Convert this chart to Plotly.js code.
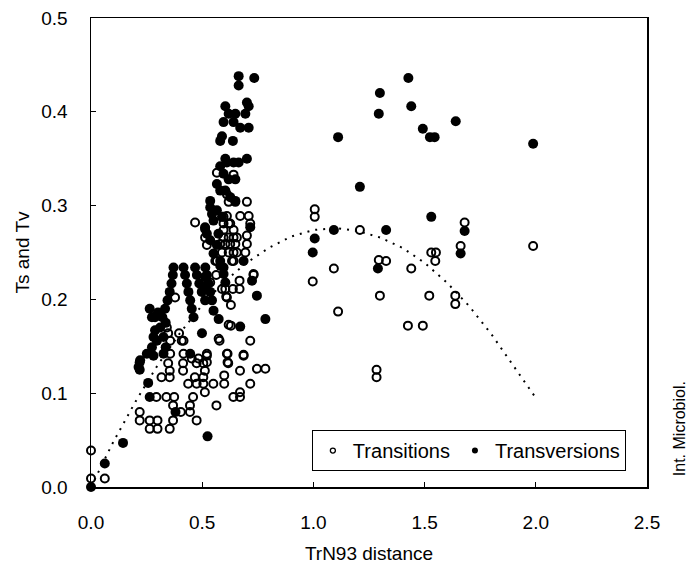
<!DOCTYPE html>
<html>
<head>
<meta charset="utf-8">
<script src="https://cdn.plot.ly/plotly-3.0.1.min.js"></script>
<style>
html,body{margin:0;padding:0;background:#fff;}
#chart{width:692px;height:568px;}
</style>
</head>
<body>
<div id="chart"></div>
<script>
// Transitions (open circles)
var tsX = [
  0, 0, 0.062,
  0.219, 0.219, 0.264, 0.264, 0.299, 0.299, 0.354, 0.369, 0.339, 0.374, 0.369, 0.294,
  0.404, 0.445, 0.445, 0.475, 0.459, 0.437, 0.475, 0.505, 0.467, 0.505, 0.512,
  0.550, 0.564, 0.599, 0.599, 0.670, 0.640, 0.670, 0.670, 0.617,
  0.317, 0.354, 0.354, 0.414, 0.414, 0.475, 0.505, 0.512, 0.347,
  0.356, 0.611, 0.686, 0.521, 0.746, 0.784, 0.716, 0.416, 0.453, 0.483,
  0.356, 0.416, 0.396, 0.347, 0.378, 0.341, 0.408,
  0.521, 0.521, 0.614, 0.614, 0.686,
  0.578, 0.716, 0.629, 0.629, 0.608,
  0.604, 0.638, 0.668, 0.668, 0.563, 0.731, 0.559, 0.641,
  0.536, 0.589, 0.611, 0.574, 0.619,
  0.566, 0.641, 0.619, 0.649, 0.701, 0.611,
  0.468, 0.513, 0.513, 0.521,
  0.596, 0.619, 0.641, 0.671, 0.709, 0.716,
  0.596, 0.596, 0.619, 0.641, 0.656,
  0.581, 0.604, 0.626, 0.649,
  0.589, 0.619, 0.641, 0.656, 0.694,
  0.701, 0.701, 0.566, 0.634, 0.731, 0.596, 0.626, 0.611,
  1.006, 1.006, 1.209, 1.092, 0.997, 1.294, 1.327, 1.440, 1.530, 1.551, 1.548,
  1.680, 1.662, 1.988, 1.299, 1.521, 1.638, 1.638, 1.111, 1.425, 1.492, 1.284, 1.284
];
var tsY = [
  0.039, 0.009, 0.009,
  0.080, 0.071, 0.071, 0.062, 0.071, 0.062, 0.062, 0.071, 0.096, 0.096, 0.087, 0.096,
  0.080, 0.087, 0.080, 0.071, 0.096, 0.110, 0.110, 0.110, 0.117, 0.117, 0.101,
  0.110, 0.087, 0.119, 0.110, 0.124, 0.096, 0.096, 0.101, 0.132,
  0.117, 0.124, 0.117, 0.124, 0.132, 0.132, 0.132, 0.124, 0.132,
  0.142, 0.142, 0.140, 0.140, 0.126, 0.126, 0.110, 0.142, 0.137, 0.137,
  0.156, 0.156, 0.164, 0.164, 0.202, 0.170, 0.156,
  0.142, 0.133, 0.142, 0.133, 0.141,
  0.156, 0.156, 0.172, 0.194, 0.203,
  0.211, 0.211, 0.211, 0.220, 0.226, 0.226, 0.241, 0.241,
  0.218, 0.211, 0.202, 0.158, 0.173,
  0.335, 0.333, 0.304, 0.304, 0.304, 0.312,
  0.282, 0.275, 0.266, 0.258,
  0.288, 0.281, 0.274, 0.289, 0.289, 0.281,
  0.274, 0.266, 0.266, 0.266, 0.266,
  0.259, 0.259, 0.259, 0.259,
  0.250, 0.250, 0.250, 0.250, 0.250,
  0.268, 0.259, 0.241, 0.241, 0.227, 0.281, 0.281, 0.289,
  0.296, 0.288, 0.274, 0.233, 0.219, 0.242, 0.241, 0.233, 0.250, 0.250, 0.241,
  0.282, 0.257, 0.257, 0.204, 0.204, 0.204, 0.195, 0.187, 0.172, 0.172, 0.125, 0.117
];

// Transversions (filled circles)
var tvX = [
  0, 0.062, 0.144, 0.524, 0.257, 0.264, 0.219, 0.219, 0.380, 0.251, 0.221, 0.214,
  0.371, 0.416, 0.468, 0.514,
  0.368, 0.362, 0.354, 0.344, 0.333, 0.321,
  0.423, 0.431, 0.438, 0.446, 0.453, 0.461,
  0.476, 0.487, 0.498, 0.513,
  0.521, 0.528, 0.536, 0.544, 0.551, 0.574,
  0.288, 0.301, 0.288, 0.311, 0.336, 0.274, 0.281, 0.296, 0.326, 0.274, 0.281, 0.336, 0.326, 0.446, 0.264,
  0.499, 0.746, 0.784, 0.671, 0.724, 0.686, 0.513, 0.513, 0.581, 0.596, 0.604,
  0.664, 0.664, 0.734, 0.604, 0.701, 0.709, 0.694, 0.649, 0.619, 0.596, 0.641, 0.671, 0.709,
  0.589, 0.581, 0.638, 0.604, 0.611, 0.641, 0.581, 0.664, 0.701, 0.596, 0.619, 0.649,
  0.566, 0.581, 0.604, 0.626, 0.649, 0.536, 0.536, 0.544, 0.566, 0.589, 0.551,
  0.513, 0.521, 0.536, 0.573, 0.566, 0.551, 0.716, 0.581, 0.596,
  1.427, 1.299, 1.294, 1.440, 1.640, 1.492, 1.524, 1.545, 1.111, 1.988, 1.209, 1.530,
  1.092, 1.327, 1.006, 0.997, 1.680, 1.662, 1.290
];
var tvY = [
  0, 0.025, 0.047, 0.054, 0.111, 0.096, 0.133, 0.125, 0.080, 0.142, 0.135, 0.128,
  0.234, 0.234, 0.234, 0.234,
  0.226, 0.217, 0.208, 0.199, 0.190, 0.181,
  0.226, 0.217, 0.208, 0.199, 0.190, 0.181,
  0.226, 0.217, 0.208, 0.199,
  0.226, 0.217, 0.208, 0.199, 0.188, 0.179,
  0.181, 0.186, 0.167, 0.170, 0.175, 0.181, 0.160, 0.156, 0.160, 0.149, 0.140, 0.149, 0.142, 0.142, 0.190,
  0.164, 0.204, 0.179, 0.171, 0.220, 0.241, 0.224, 0.211, 0.236, 0.227, 0.218,
  0.438, 0.428, 0.436, 0.406, 0.410, 0.406, 0.398, 0.398, 0.398, 0.389, 0.389, 0.383, 0.383,
  0.374, 0.369, 0.369, 0.350, 0.346, 0.346, 0.342, 0.346, 0.350, 0.334, 0.328, 0.328,
  0.323, 0.316, 0.316, 0.309, 0.305, 0.305, 0.298, 0.291, 0.295, 0.288, 0.284,
  0.277, 0.270, 0.263, 0.270, 0.258, 0.249, 0.277, 0.241, 0.234,
  0.436, 0.420, 0.398, 0.406, 0.390, 0.382, 0.373, 0.373, 0.373, 0.366, 0.320, 0.288,
  0.274, 0.274, 0.265, 0.250, 0.273, 0.249, 0.233
];

// Dotted trend curve
var fitX = [0, 0.1, 0.2, 0.3, 0.4, 0.5, 0.6, 0.7, 0.8, 0.9, 1.0, 1.1, 1.2, 1.3, 1.4, 1.5, 1.6, 1.7, 1.8, 1.9, 2.0];
var fitY = [0, 0.048, 0.091, 0.130, 0.164, 0.194, 0.219, 0.239, 0.255, 0.267, 0.274, 0.276, 0.273, 0.266, 0.255, 0.239, 0.218, 0.193, 0.163, 0.129, 0.095];

var seriesNames = ['Transitions', 'Transversions'];
var xTicks = [0, 0.5, 1.0, 1.5, 2.0, 2.5];
var xTickText = ['0.0', '0.5', '1.0', '1.5', '2.0', '2.5'];
var yTicks = [0, 0.1, 0.2, 0.3, 0.4, 0.5];
var yTickText = ['0.0', '0.1', '0.2', '0.3', '0.4', '0.5'];

var FONT = 'Liberation Sans, Arial, sans-serif';

var traces = [
  {
    x: fitX, y: fitY, mode: 'lines', showlegend: false, hoverinfo: 'skip',
    line: {color: '#000', width: 2, dash: '2px,6px'}
  },
  {
    x: tsX, y: tsY, mode: 'markers', name: seriesNames[0], showlegend: false, cliponaxis: false,
    marker: {symbol: 'circle-open', size: 8, color: '#000', line: {width: 2, color: '#000'}}
  },
  {
    x: tvX, y: tvY, mode: 'markers', name: seriesNames[1], showlegend: false, cliponaxis: false,
    marker: {symbol: 'circle', size: 10, color: '#000', line: {width: 0}}
  },
  // legend entries with the small legend glyphs of the reference
  {
    x: [null], y: [null], mode: 'markers', name: seriesNames[0],
    marker: {symbol: 'circle-open', size: 5, color: '#000', line: {width: 1.3, color: '#000'}}
  },
  {
    x: [null], y: [null], mode: 'markers', name: seriesNames[1],
    marker: {symbol: 'circle', size: 6, color: '#000'}
  }
];

var layout = {
  width: 692, height: 568,
  margin: {l: 91, r: 45, t: 18, b: 81},
  paper_bgcolor: '#fff', plot_bgcolor: '#fff',
  font: {family: FONT, color: '#000', size: 19},
  showlegend: true,
  legend: {
    orientation: 'h', x: 0.962, xanchor: 'right', y: 0.034, yanchor: 'bottom',
    bordercolor: '#000', borderwidth: 1, bgcolor: '#fff',
    itemwidth: 30,
    font: {family: FONT, size: 20, color: '#000'}
  },
  xaxis: {
    range: [0, 2.5], tickvals: xTicks, ticktext: xTickText,
    ticks: 'inside', ticklen: 5, tickwidth: 1, tickcolor: '#000',
    showline: true, linecolor: '#000', linewidth: 1.5, mirror: true,
    showgrid: false, zeroline: false, ticklabelstandoff: 18,
    tickfont: {family: FONT, size: 19, color: '#000'},
    title: {text: 'TrN93 distance', font: {family: FONT, size: 19, color: '#000'}, standoff: 14}
  },
  yaxis: {
    range: [0, 0.5], tickvals: yTicks, ticktext: yTickText,
    ticks: 'inside', ticklen: 5, tickwidth: 1, tickcolor: '#000',
    showline: true, linecolor: '#000', linewidth: 1.5, mirror: true,
    showgrid: false, zeroline: false, ticklabelstandoff: 18,
    tickfont: {family: FONT, size: 19, color: '#000'},
    title: {text: 'Ts and Tv', font: {family: FONT, size: 19, color: '#000'}, standoff: 6}
  },
  annotations: [{
    text: 'Int. Microbiol.', xref: 'paper', yref: 'paper', x: 1.059, y: 0.125,
    xanchor: 'center', yanchor: 'middle', textangle: -90, showarrow: false,
    font: {family: FONT, size: 16, color: '#000'}
  }]
};

Plotly.newPlot('chart', traces, layout, {staticPlot: true, displayModeBar: false});
</script>
</body>
</html>
